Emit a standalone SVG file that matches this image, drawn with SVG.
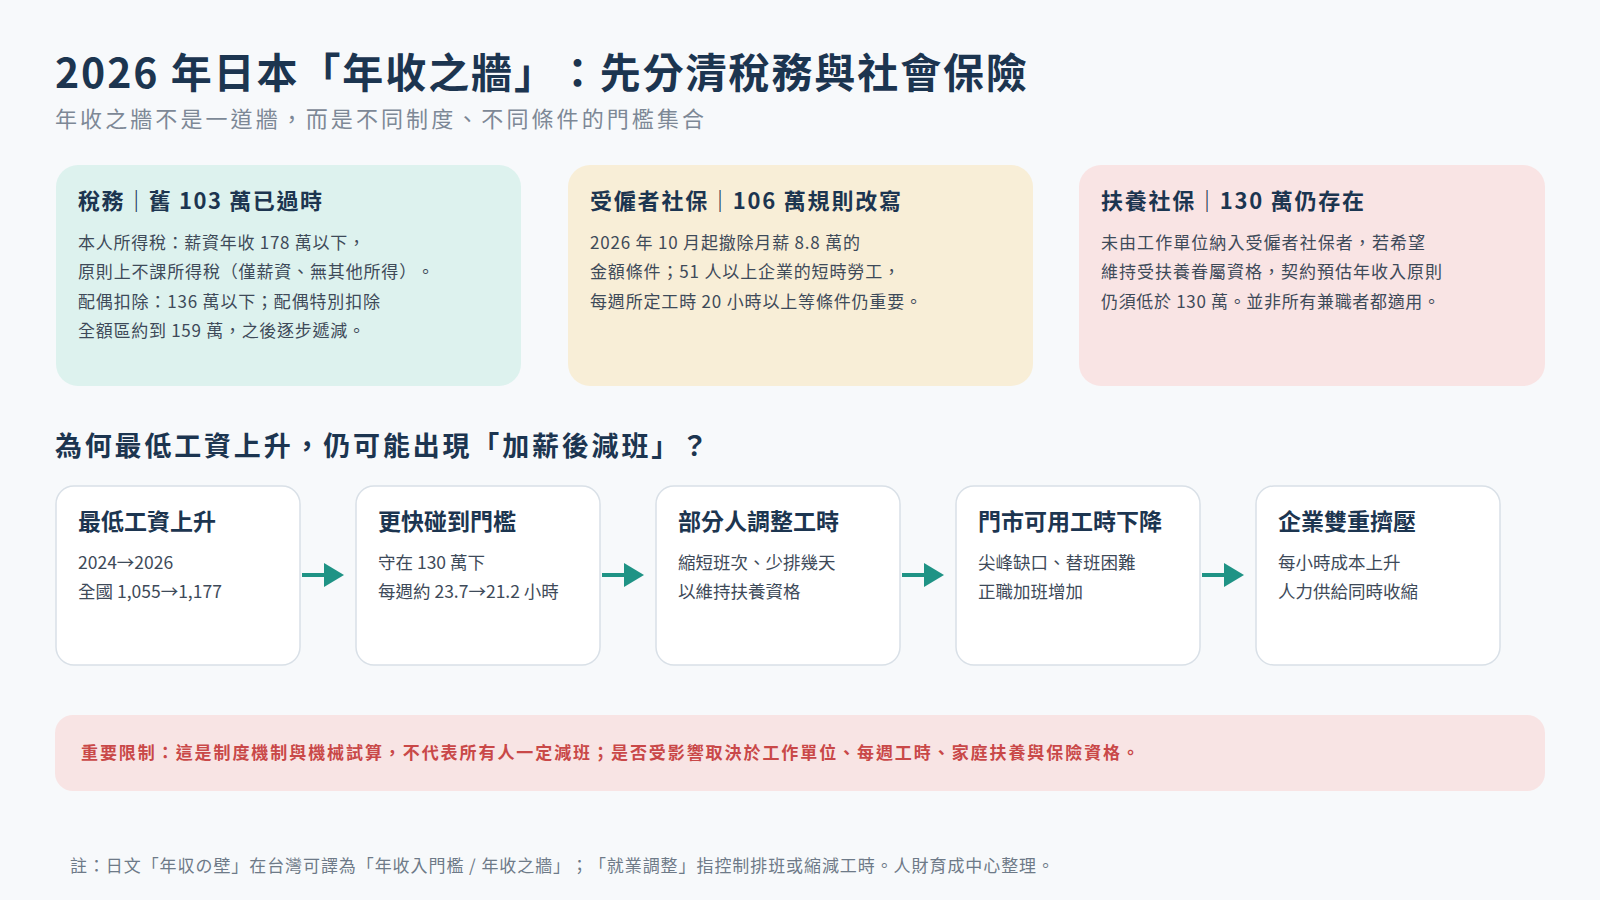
<svg xmlns="http://www.w3.org/2000/svg" width="1600" height="900" viewBox="0 0 1600 900">
<defs>
<style>
text{font-family:"Noto Sans CJK TC","Noto Sans",sans-serif;text-spacing-trim:space-all}
.t{font-size:41px;font-weight:700;fill:#1c3550}
.sub{font-size:22px;fill:#7d8896}
.ch{font-size:22px;font-weight:700;fill:#1c3550}
.nh{font-size:23px;font-weight:700;fill:#1c3550}
.b{font-size:17px;fill:#3e4a59}
.nb{font-size:17.5px;fill:#3e4a59}
.sh{font-size:27px;font-weight:700;fill:#1c3550}
.fb{fill:#fff;stroke:#d9e0e7;stroke-width:1.5}
.ar{stroke:#1f9385;stroke-width:4;fill:none;marker-end:url(#ah)}
</style>
<marker id="ah" markerWidth="6" markerHeight="6" refX="4" refY="3" orient="auto" markerUnits="strokeWidth"><path d="M0,0 L5,3 L0,6 Z" fill="#1f9385"/></marker>
</defs>
<rect width="1600" height="900" fill="#f7f9fb"/>
<text class="t" x="55" y="88" textLength="972">2026 年日本「年收之牆」：先分清稅務與社會保險</text>
<text class="sub" x="55" y="127" textLength="649">年收之牆不是一道牆，而是不同制度、不同條件的門檻集合</text>
<g id="card-tax"><rect x="56" y="165" width="465" height="221" rx="22" fill="#ddf2ee"/>
<text class="ch" x="78" y="209" textLength="244">稅務｜舊 103 萬已過時</text>
<text class="b" x="78" y="249" textLength="287">本人所得稅：薪資年收 178 萬以下，</text>
<text class="b" x="78" y="278" textLength="356">原則上不課所得稅（僅薪資、無其他所得）。</text>
<text class="b" x="78" y="308" textLength="302">配偶扣除：136 萬以下；配偶特別扣除</text>
<text class="b" x="78" y="337" textLength="287">全額區約到 159 萬，之後逐步遞減。</text></g>
<g id="card-emp"><rect x="568" y="165" width="465" height="221" rx="22" fill="#f8eed7"/>
<text class="ch" x="590" y="209" textLength="311">受僱者社保｜106 萬規則改寫</text>
<text class="b" x="590" y="249" textLength="270">2026 年 10 月起撤除月薪 8.8 萬的</text>
<text class="b" x="590" y="278" textLength="310">金額條件；51 人以上企業的短時勞工，</text>
<text class="b" x="590" y="308" textLength="332">每週所定工時 20 小時以上等條件仍重要。</text></g>
<g id="card-dep"><rect x="1079" y="165" width="466" height="221" rx="22" fill="#f9e4e4"/>
<text class="ch" x="1101" y="209" textLength="263">扶養社保｜130 萬仍存在</text>
<text class="b" x="1101" y="249" textLength="324">未由工作單位納入受僱者社保者，若希望</text>
<text class="b" x="1101" y="278" textLength="341">維持受扶養眷屬資格，契約預估年收入原則</text>
<text class="b" x="1101" y="308" textLength="339">仍須低於 130 萬。並非所有兼職者都適用。</text></g>
<text class="sh" x="55" y="456" textLength="653">為何最低工資上升，仍可能出現「加薪後減班」？</text>
<g id="n1"><rect class="fb" x="56" y="486" width="244" height="179" rx="18"/>
<text class="nh" x="78" y="530">最低工資上升</text>
<text class="nb" x="78" y="569">2024→2026</text>
<text class="nb" x="78" y="598">全國 1,055→1,177</text></g>
<g id="n2"><rect class="fb" x="356" y="486" width="244" height="179" rx="18"/>
<text class="nh" x="378" y="530">更快碰到門檻</text>
<text class="nb" x="378" y="569">守在 130 萬下</text>
<text class="nb" x="378" y="598">每週約 23.7→21.2 小時</text></g>
<g id="n3"><rect class="fb" x="656" y="486" width="244" height="179" rx="18"/>
<text class="nh" x="678" y="530">部分人調整工時</text>
<text class="nb" x="678" y="569">縮短班次、少排幾天</text>
<text class="nb" x="678" y="598">以維持扶養資格</text></g>
<g id="n4"><rect class="fb" x="956" y="486" width="244" height="179" rx="18"/>
<text class="nh" x="978" y="530">門市可用工時下降</text>
<text class="nb" x="978" y="569">尖峰缺口、替班困難</text>
<text class="nb" x="978" y="598">正職加班增加</text></g>
<g id="n5"><rect class="fb" x="1256" y="486" width="244" height="179" rx="18"/>
<text class="nh" x="1278" y="530">企業雙重擠壓</text>
<text class="nb" x="1278" y="569">每小時成本上升</text>
<text class="nb" x="1278" y="598">人力供給同時收縮</text></g>
<g id="connectors">
<line class="ar" x1="302" y1="575" x2="340" y2="575"/>
<line class="ar" x1="602" y1="575" x2="640" y2="575"/>
<line class="ar" x1="902" y1="575" x2="940" y2="575"/>
<line class="ar" x1="1202" y1="575" x2="1240" y2="575"/>
</g>
<g id="warning"><rect x="55" y="715" width="1490" height="76" rx="18" fill="#f8e4e4"/>
<text x="81" y="759" textLength="1058" style="font-size:17px;font-weight:700;fill:#c94848">重要限制：這是制度機制與機械試算，不代表所有人一定減班；是否受影響取決於工作單位、每週工時、家庭扶養與保險資格。</text></g>
<text x="70" y="872" textLength="984" style="font-size:17px;fill:#6e7a88">註：日文「年収の壁」在台灣可譯為「年收入門檻 / 年收之牆」；「就業調整」指控制排班或縮減工時。人財育成中心整理。</text>
</svg>
